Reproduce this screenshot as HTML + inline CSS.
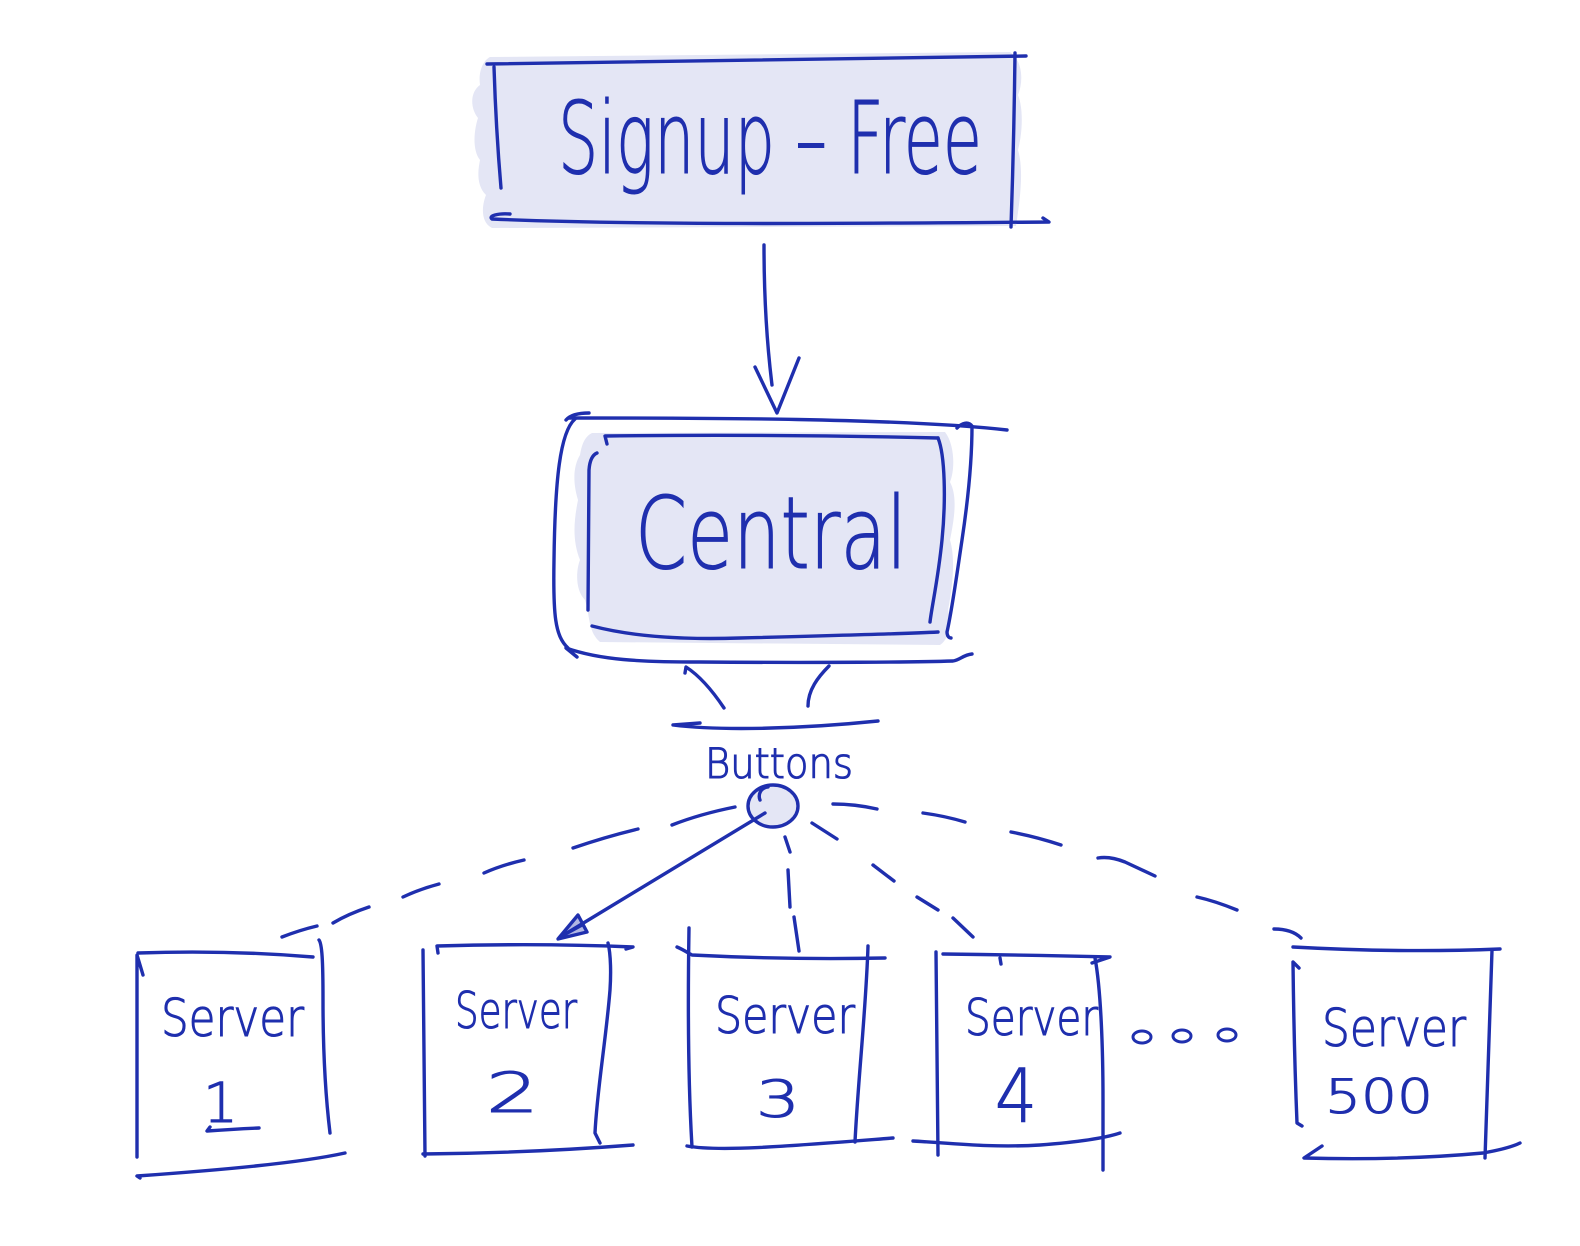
<!DOCTYPE html>
<html>
<head>
<meta charset="utf-8">
<style>
  html,body{margin:0;padding:0;background:#ffffff;}
  body{width:1580px;height:1246px;overflow:hidden;}
  svg{display:block;}
  .s{fill:none;stroke:#1f2fae;stroke-width:3.4;stroke-linecap:round;stroke-linejoin:round;}
  .t{fill:#1f2fae;stroke:#1f2fae;stroke-width:1.1;font-family:"DejaVu Sans","Liberation Sans",sans-serif;font-weight:200;}
</style>
</head>
<body>
<svg width="1580" height="1246" viewBox="0 0 1580 1246" xmlns="http://www.w3.org/2000/svg">
  <!-- fills -->
  <path fill="#e4e6f5" d="M490,57 L1010,52 C1022,60 1024,80 1018,95 C1024,110 1022,135 1018,150 C1024,170 1020,200 1016,226 L492,228 C480,222 482,205 486,195 C476,185 478,170 480,160 C472,150 474,130 478,118 C470,108 470,92 480,85 C478,70 484,60 490,57 Z"/>
  <path fill="#e4e6f5" d="M592,433 L945,432 C955,445 955,470 950,482 C958,497 954,520 950,540 C956,560 952,590 948,610 C952,625 948,640 940,645 L600,642 C588,632 590,615 585,600 C575,590 576,570 580,560 C572,540 574,520 578,500 C572,480 574,465 580,455 C582,442 586,436 592,433 Z"/>

  <!-- Signup box -->
  <path class="s" d="M487,64 Q750,60 1026,56"/>
  <path class="s" d="M494,67 Q496,130 501,188"/>
  <path class="s" d="M1015,53 Q1014,140 1011,227"/>
  <path class="s" d="M510,214 C498,213 488,216 492,219 C650,226 900,223 1049,222 L1043,218"/>
  <text class="t" x="558" y="173" font-size="100" textLength="424" lengthAdjust="spacingAndGlyphs">Signup – Free</text>

  <!-- arrow signup -> central -->
  <path class="s" d="M764,245 Q764,320 772,385"/>
  <path class="s" d="M755,367 L777,413 L799,358"/>

  <!-- Central box outer -->
  <path class="s" d="M589,413 Q572,413 566,420"/>
  <path class="s" d="M569,418 C700,418 900,418 1007,430"/>
  <path class="s" d="M575,419 C560,432 555,480 554,560 C553,615 555,636 568,648"/>
  <path class="s" d="M577,657 L566,648 C600,660 640,662 700,662 C820,663 920,662 953,661 C960,660 963,655 972,654"/>
  <path class="s" d="M957,428 C962,423 968,421 972,426 C972,460 968,500 962,540 C956,580 952,610 947,632 C947,636 949,638 951,638"/>
  <!-- Central box inner -->
  <path class="s" d="M607,444 L605,436 Q770,434 938,438"/>
  <path class="s" d="M938,438 C945,455 946,500 942,540 C938,580 932,605 930,622"/>
  <path class="s" d="M597,453 Q590,456 589,470 L588,610"/>
  <path class="s" d="M592,626 C630,636 680,640 740,638 C820,636 900,634 938,632"/>
  <text class="t" x="635" y="568" font-size="100" textLength="272" lengthAdjust="spacingAndGlyphs">Central</text>

  <!-- Buttons connectors -->
  <path class="s" d="M724,708 C712,690 700,676 686,667 L685,673"/>
  <path class="s" d="M808,706 C808,690 818,677 829,666"/>
  <path class="s" d="M700,723 L673,725 C720,731 800,729 878,721"/>
  <text class="t" x="705" y="778" font-size="42" textLength="148" lengthAdjust="spacingAndGlyphs">Buttons</text>

  <!-- small circle -->
  <ellipse cx="773" cy="806" rx="25" ry="21" fill="#e4e6f5" stroke="#1f2fae" stroke-width="3.4"/>
  <path class="s" d="M768,787 C760,788 758,795 760,800"/>

  <!-- arrow to server 2 -->
  <path class="s" d="M765,813 L562,936"/>
  <path d="M558,939 L578,915 L587,932 Z" fill="#1f2fae" fill-opacity="0.35" stroke="#1f2fae" stroke-width="3.4" stroke-linejoin="round"/>
  <path class="s" d="M560,937 L582,925"/>

  <!-- left dashes (to server 1) -->
  <path class="s" d="M672,825 Q700,814 735,807"/>
  <path class="s" d="M573,848 Q605,837 638,829"/>
  <path class="s" d="M484,873 Q502,865 524,860"/>
  <path class="s" d="M403,897 Q420,889 439,884"/>
  <path class="s" d="M333,923 Q348,914 369,907"/>
  <path class="s" d="M282,937 Q300,930 317,926"/>

  <!-- right dashes (to server 500) -->
  <path class="s" d="M833,804 Q855,804 877,809"/>
  <path class="s" d="M923,813 Q945,816 965,822"/>
  <path class="s" d="M1011,832 Q1037,837 1061,845"/>
  <path class="s" d="M1098,858 Q1110,856 1125,862 L1155,876"/>
  <path class="s" d="M1197,897 Q1215,901 1237,910"/>
  <path class="s" d="M1274,929 Q1292,929 1301,938"/>

  <!-- dashes to server 3 -->
  <path class="s" d="M785,837 L790,852"/>
  <path class="s" d="M788,870 L790,907"/>
  <path class="s" d="M794,917 L799,951"/>

  <!-- dashes to server 4 -->
  <path class="s" d="M812,823 L837,839"/>
  <path class="s" d="M873,865 L894,881"/>
  <path class="s" d="M917,897 L938,910"/>
  <path class="s" d="M953,918 L973,937"/>

  <!-- Server 1 -->
  <path class="s" d="M143,975 L137,955 L137,1157"/>
  <path class="s" d="M138,953 Q230,950 313,957"/>
  <path class="s" d="M319,940 C322,944 323,960 323,1000 C323,1060 326,1100 330,1133"/>
  <path class="s" d="M140,1178 L137,1176 C220,1170 300,1163 345,1153"/>
  <text class="t" x="161" y="1036" font-size="52" textLength="143" lengthAdjust="spacingAndGlyphs">Server</text>
  <text class="t" x="203" y="1122" font-size="55">1</text>
  <path class="s" d="M210,1127 L207,1131 Q235,1129 259,1128"/>

  <!-- Server 2 -->
  <path class="s" d="M423,950 Q424,1050 425,1156"/>
  <path class="s" d="M438,953 L437,946 Q540,943 633,947 L626,949"/>
  <path class="s" d="M608,943 C611,955 611,975 610,990 C606,1040 597,1090 595,1133 L600,1143"/>
  <path class="s" d="M423,1154 Q530,1153 633,1145"/>
  <text class="t" x="455" y="1028" font-size="50" textLength="122" lengthAdjust="spacingAndGlyphs">Server</text>
  <text class="t" x="486" y="1112" font-size="55" textLength="53" lengthAdjust="spacingAndGlyphs">2</text>

  <!-- Server 3 -->
  <path class="s" d="M689,928 C688,990 688,1080 692,1147"/>
  <path class="s" d="M677,947 C684,950 688,953 692,955 Q790,960 885,958"/>
  <path class="s" d="M868,946 C866,1010 858,1080 855,1142"/>
  <path class="s" d="M687,1146 C720,1152 790,1146 893,1138"/>
  <text class="t" x="715" y="1033" font-size="50" textLength="140" lengthAdjust="spacingAndGlyphs">Server</text>
  <text class="t" x="756" y="1117" font-size="51" textLength="44" lengthAdjust="spacingAndGlyphs">3</text>

  <!-- Server 4 -->
  <path class="s" d="M936,952 Q937,1050 938,1155"/>
  <path class="s" d="M943,954 Q1030,955 1110,957 L1092,963"/>
  <path class="s" d="M1000,958 L1001,964"/>
  <path class="s" d="M1095,958 C1101,990 1103,1050 1103,1100 L1103,1170"/>
  <path class="s" d="M913,1141 C950,1143 990,1148 1040,1145 C1080,1142 1105,1138 1120,1133"/>
  <text class="t" x="965" y="1035" font-size="50" textLength="133" lengthAdjust="spacingAndGlyphs">Server</text>
  <text class="t" x="995" y="1122" font-size="74" textLength="42" lengthAdjust="spacingAndGlyphs">4</text>

  <!-- dots -->
  <ellipse cx="1142" cy="1037" rx="9" ry="6" fill="none" stroke="#1f2fae" stroke-width="3"/>
  <ellipse cx="1182" cy="1036" rx="9" ry="6" fill="none" stroke="#1f2fae" stroke-width="3"/>
  <ellipse cx="1227" cy="1035" rx="9" ry="6" fill="none" stroke="#1f2fae" stroke-width="3"/>

  <!-- Server 500 -->
  <path class="s" d="M1299,968 L1293,962 Q1294,1050 1297,1123 L1302,1126"/>
  <path class="s" d="M1293,947 Q1400,953 1500,949"/>
  <path class="s" d="M1492,950 C1490,1020 1487,1090 1485,1158"/>
  <path class="s" d="M1322,1146 L1304,1158 C1380,1160 1440,1157 1483,1153 C1500,1150 1512,1147 1520,1143"/>
  <text class="t" x="1322" y="1046" font-size="52" textLength="144" lengthAdjust="spacingAndGlyphs">Server</text>
  <text class="t" x="1325" y="1113" font-size="47" textLength="108" lengthAdjust="spacingAndGlyphs">500</text>
</svg>
</body>
</html>
